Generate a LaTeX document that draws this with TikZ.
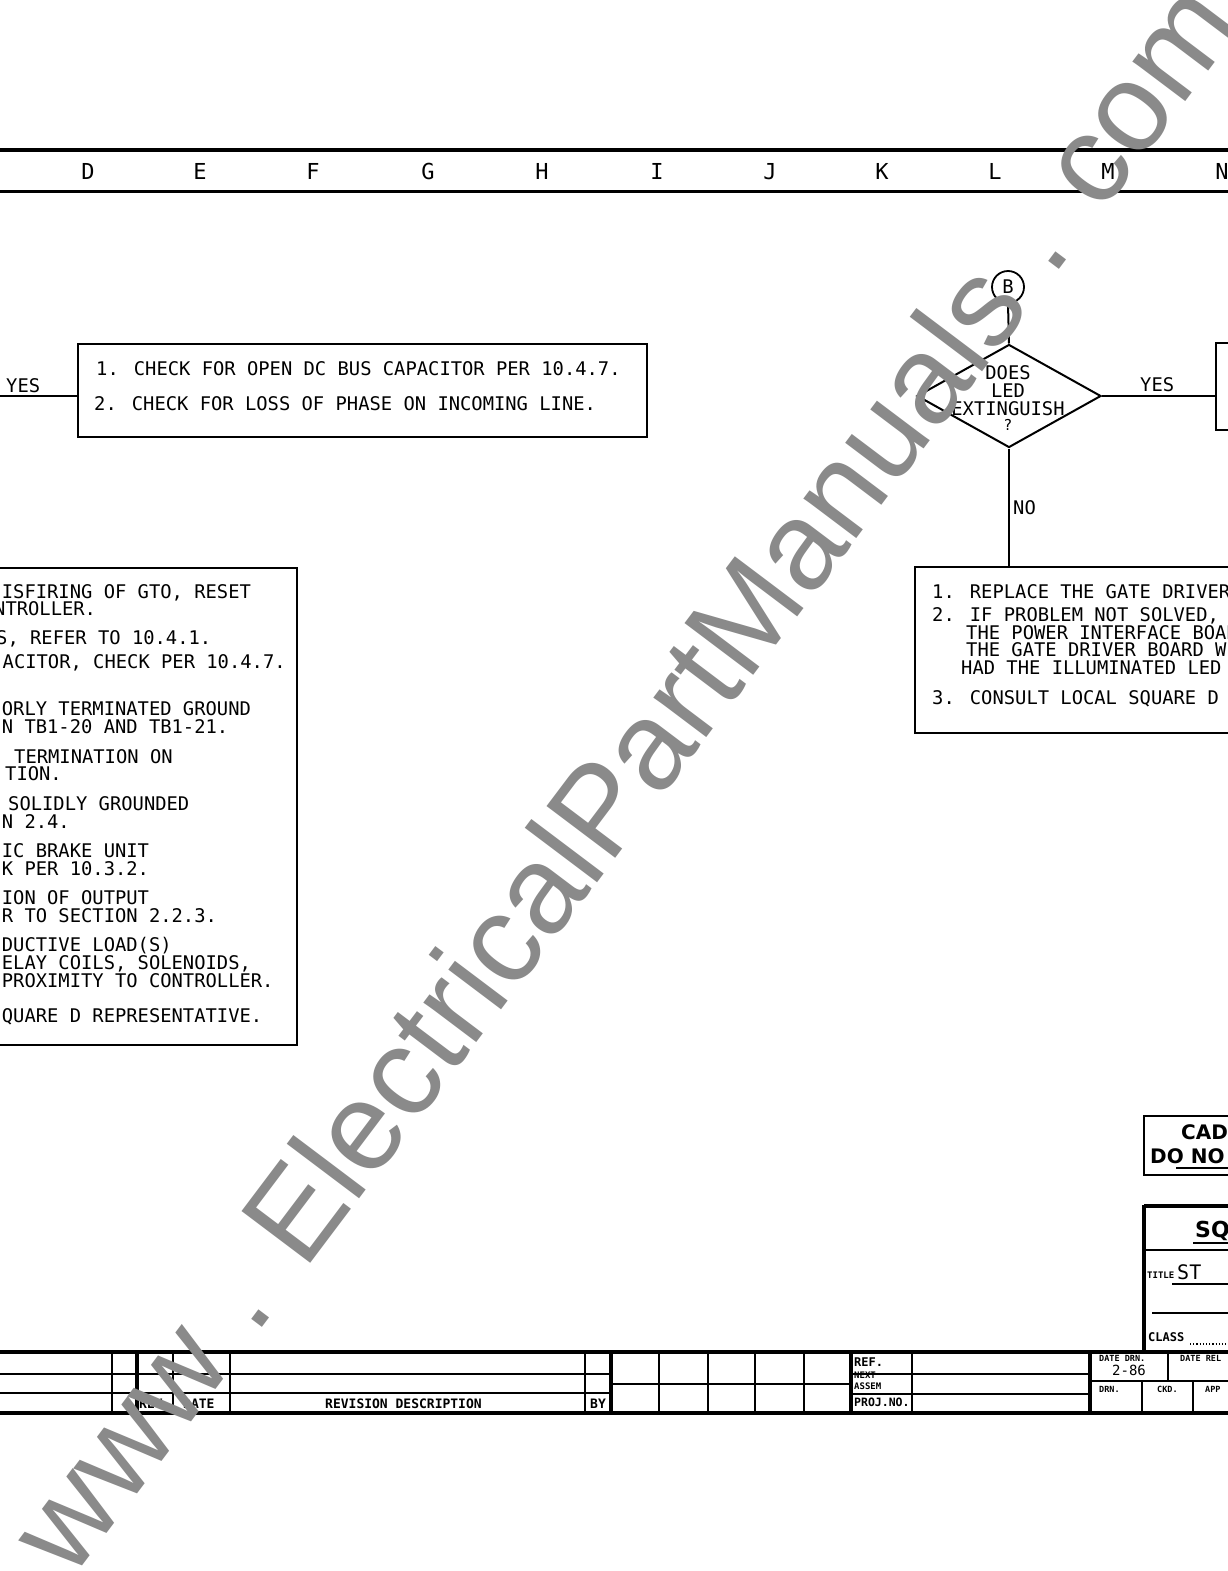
\documentclass[tikz,border=0pt]{standalone}
\usepackage{fontspec}
\setmainfont{DejaVu Sans}
\newfontfamily\lrfam{DejaVu Sans Mono}
\newfontfamily\wmfam{Liberation Sans}
\usetikzlibrary{shapes.geometric}
\definecolor{wmgray}{RGB}{138,138,138}
\tikzset{
  tx/.style={anchor=base west, inner sep=0pt, font=\lrfam\fontsize{18.8}{20}\selectfont},
  txc/.style={anchor=base, inner sep=0pt, font=\lrfam\fontsize{18.8}{20}\selectfont},
  hd/.style={anchor=base, inner sep=0pt, font=\lrfam\fontsize{22}{24}\selectfont},
  smt/.style={anchor=base west, inner sep=0pt, font=\lrfam\bfseries\fontsize{#1}{#1}\selectfont},
  bsans/.style={anchor=base west, inner sep=0pt, font=\bfseries\fontsize{#1}{#1}\selectfont},
  box/.style={draw, line width=2.2pt, rectangle, inner sep=0pt},
  conn/.style={line width=2pt},
  tline/.style={line width=2pt},
  tthick/.style={line width=3.5pt},
}
\begin{document}
\begin{tikzpicture}[x=1pt,y=-1pt]
\useasboundingbox (0,0) rectangle (1228,1571);
\clip (0,0) rectangle (1228,1571);
\fill[white] (0,0) rectangle (1228,1571);

% header band
\draw[line width=4pt] (0,150) -- (1228,150);
\draw[line width=3pt] (0,191) -- (1228,191);
\foreach \L/\X [count=\i] in {D/88,E/200,F/313,G/428,H/542,I/657,J/770,K/882,L/995,M/1108,N/1222}
  \node[hd] (h\i) at (\X,179) {\L};

% top box
\node[box, minimum width=569pt, minimum height=93pt] (topbox) at (362.5,390.5) {};
\node[tx] (tb1) at (96,375) {1. CHECK FOR OPEN DC BUS CAPACITOR PER 10.4.7.};
\node[tx] (tb2) at (94,410) {2. CHECK FOR LOSS OF PHASE ON INCOMING LINE.};
\coordinate (yesL) at (0,396);
\draw[conn] (yesL) -- (yesL -| topbox.west);
\node[tx] (yes1) at (6,392) {YES};

% left box
\node[box, minimum width=310pt, minimum height=477pt] (lb) at (142,806.5) {};
\node[tx] (l1) at (1.7,598) {ISFIRING OF GTO, RESET};
\node[tx] (l2) at (-6,615) {NTROLLER.};
\node[tx] (l3) at (-4,644) {S, REFER TO 10.4.1.};
\node[tx] (l4) at (2.5,668) {ACITOR, CHECK PER 10.4.7.};
\node[tx] (l5) at (1.7,715) {ORLY TERMINATED GROUND};
\node[tx] (l6) at (1.7,733) {N TB1-20 AND TB1-21.};
\node[tx] (l7) at (14,763) {TERMINATION ON};
\node[tx] (l8) at (5,780) {TION.};
\node[tx] (l9) at (8,810) {SOLIDLY GROUNDED};
\node[tx] (l10) at (1.7,828) {N 2.4.};
\node[tx] (l11) at (1.7,857) {IC BRAKE UNIT};
\node[tx] (l12) at (1.7,875) {K PER 10.3.2.};
\node[tx] (l13) at (1.7,904) {ION OF OUTPUT};
\node[tx] (l14) at (1.7,922) {R TO SECTION 2.2.3.};
\node[tx] (l15) at (1.7,951) {DUCTIVE LOAD(S)};
\node[tx] (l16) at (1.7,969) {ELAY COILS, SOLENOIDS,};
\node[tx] (l17) at (1.7,987) {PROXIMITY TO CONTROLLER.};
\node[tx] (l18) at (1.7,1022) {QUARE D REPRESENTATIVE.};

% decision
\node[draw, circle, line width=1.8pt, minimum size=32pt, inner sep=0pt,
      font=\lrfam\fontsize{18.8}{20}\selectfont] (cB) at (1008,287) {B};
\node[draw, diamond, line width=2pt, minimum width=184pt, minimum height=103pt, inner sep=0pt] (dia) at (1009,396) {};
\draw[conn] (cB.south) -- (dia.north);
\node[txc] (d1) at (1008,379) {DOES};
\node[txc] (d2) at (1008,397) {LED};
\node[txc] (d3) at (1008,415) {EXTINGUISH};
\node[anchor=base, inner sep=0pt, font=\lrfam\fontsize{15}{16}\selectfont] (d4) at (1008,430) {?};

% right box 1 (YES)
\node[box, minimum width=30pt, minimum height=87pt] (rb1) at (1231,386.5) {};
\draw[conn] (dia.east) -- (dia.east -| rb1.west);
\node[tx] (yes2) at (1140,391) {YES};

% right box 2 (NO)
\node[box, minimum width=330pt, minimum height=166pt] (rb2) at (1080,650) {};
\draw[conn] (dia.south) -- (dia.south |- rb2.north);
\node[tx] (no) at (1013,514) {NO};
\node[tx] (r1) at (932,598) {1. REPLACE THE GATE DRIVER};
\node[tx] (r2) at (932,621) {2. IF PROBLEM NOT SOLVED,};
\node[tx] (r3) at (966,639) {THE POWER INTERFACE BOAR};
\node[tx] (r4) at (966,656) {THE GATE DRIVER BOARD W};
\node[tx] (r5) at (961,674) {HAD THE ILLUMINATED LED};
\node[tx] (r6) at (932,704) {3. CONSULT LOCAL SQUARE D};

% CAD box
\node[box, line width=2.5pt, minimum width=100pt, minimum height=59pt] (cad) at (1194,1145.5) {};
\node[bsans=20] (cad1) at (1181,1139) {CAD};
\node[bsans=20] (cad2) at (1150,1163) {DO NO};
\draw[line width=2.5pt] (1176,1168) -- (1228,1168);

% title block
\draw[line width=3.5pt] (1144,1205) -- (1144,1352);
\draw[line width=3.5pt] (1144,1206) -- (1228,1206);
\draw[line width=2pt] (1144,1250) -- (1228,1250);
\node[bsans=22] (sq) at (1195,1237) {SQ};
\draw[line width=2.5pt] (1193,1243) -- (1228,1243);
\node[smt=9] (ttl) at (1147,1278) {TITLE};
\node[anchor=base west, inner sep=0pt, font=\lrfam\fontsize{20}{22}\selectfont] (st) at (1177,1279) {ST};
\draw[line width=1.5pt] (1172,1284) -- (1228,1284);
\draw[line width=1.5pt] (1152,1313) -- (1228,1313);
\node[smt=12] (cls) at (1148,1341) {CLASS};
\draw[line width=1.2pt, dotted] (1190,1344) -- (1228,1344);

% bottom revision table
\draw[tthick] (0,1352) -- (1228,1352);
\draw[tthick] (0,1413) -- (1228,1413);
\draw[tline] (0,1374) -- (611,1374);
\draw[tline] (0,1393) -- (611,1393);
\foreach \X in {112,173,230,585,659,708,755,804,912}
  \draw[tline] (\X,1352) -- (\X,1413);
\foreach \X in {137,611,851,1090}
  \draw[tthick] (\X,1352) -- (\X,1413);
\draw[tline] (611,1384) -- (851,1384);
\draw[tline] (851,1374) -- (1090,1374);
\draw[tline] (851,1394) -- (1090,1394);
\draw[tline] (1090,1381) -- (1228,1381);
\draw[tline] (1168,1352) -- (1168,1381);
\draw[tline] (1142,1381) -- (1142,1413);
\draw[tline] (1193,1381) -- (1193,1413);
\node[smt=13] (rev) at (139,1408) {REV.};
\node[smt=13] (dte) at (183,1408) {DATE};
\node[smt=13] (rdesc) at (325,1408) {REVISION DESCRIPTION};
\node[smt=13] (by) at (590,1408) {BY};
\node[smt=12] (ref) at (854,1366) {REF.};
\node[smt=9] (nxt) at (854,1378) {NEXT};
\node[smt=9] (asm) at (854,1389) {ASSEM};
\node[smt=11.5] (proj) at (854,1406) {PROJ.NO.};
\node[smt=8.5] (ddrn) at (1099,1361) {DATE DRN.};
\node[anchor=base west, inner sep=0pt, font=\lrfam\fontsize{14}{14}\selectfont] (d86) at (1112,1375) {2-86};
\node[smt=8.5] (drel) at (1180,1361) {DATE REL};
\node[smt=8.5] (drn) at (1099,1392) {DRN.};
\node[smt=8.5] (ckd) at (1157,1392) {CKD.};
\node[smt=8.5] (app) at (1205,1392) {APP};

% watermark
\node[rotate=53, text=wmgray, inner sep=0pt,
      font=\wmfam\fontsize{125}{125}\selectfont] (wm) at (622,776) {www . ElectricalPartManuals . com};
\end{tikzpicture}
\end{document}
